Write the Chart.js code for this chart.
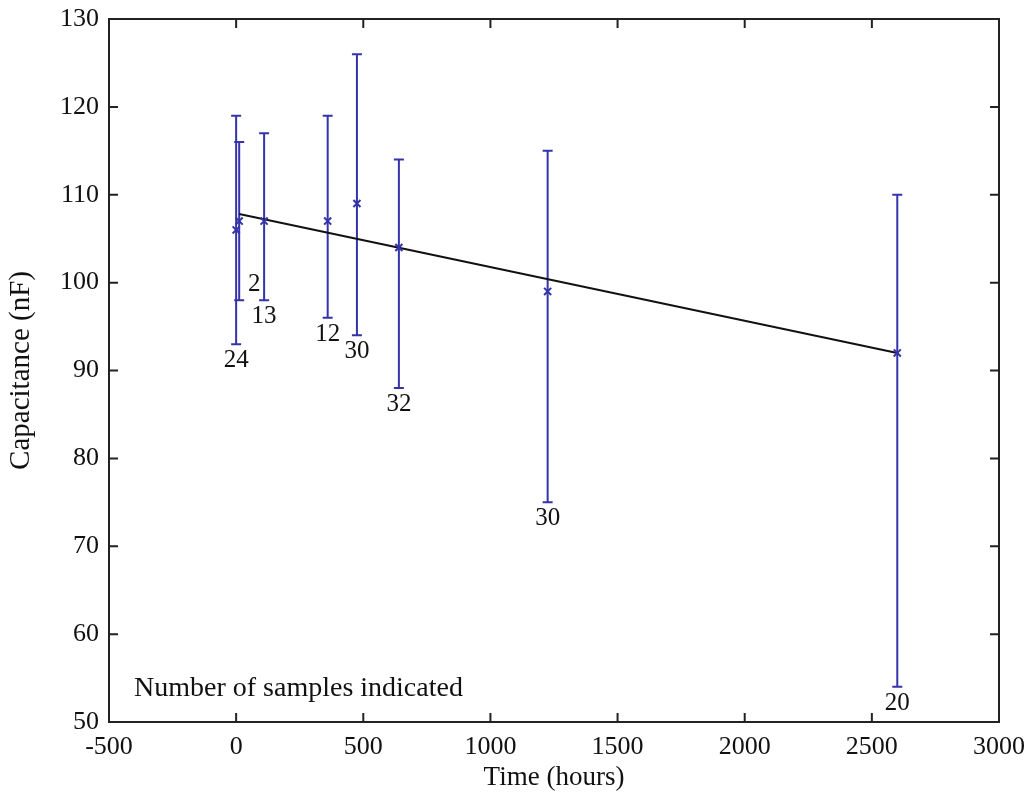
<!DOCTYPE html>
<html>
<head>
<meta charset="utf-8">
<script src="https://cdn.jsdelivr.net/npm/chart.js@4.4.0/dist/chart.umd.min.js"></script>
<style>
    html, body { margin: 0; padding: 0; background: #ffffff; }
    #wrap { width: 1032px; height: 799px; }
</style>
</head>
<body>
<div id="wrap"><canvas id="capChart"></canvas></div>
<script>
// Capacitance vs time, mean with min/max bars and sample counts
const hours = [0, 12, 110, 360, 475, 640, 1225, 2600];
const meanCap = [106, 107, 107, 107, 109, 104, 99, 92];
const lowCap = [93, 98, 98, 96, 94, 88, 75, 54];
const highCap = [119, 116, 117, 119, 126, 114, 115, 110];
const sampleCounts = ['24', '2', '13', '12', '30', '32', '30', '20'];

// linear fit line end points
const fitHours = [12, 2600];
const fitCap = [107.8, 92];

const xTicks = [-500, 0, 500, 1000, 1500, 2000, 2500, 3000];
const yTicks = [50, 60, 70, 80, 90, 100, 110, 120, 130];

const barColor = 'rgb(52, 52, 168)';
const serif = "'Liberation Serif', 'Times New Roman', serif";

// error bars + sample count labels
const errorBarPlugin = {
    id: 'errorBars',
    beforeDatasetsDraw(chart) {
        const ctx = chart.ctx;
        const xs = chart.scales.x, ys = chart.scales.y;
        ctx.save();
        ctx.strokeStyle = barColor;
        ctx.lineWidth = 2;
        hours.forEach((h, i) => {
            const px = xs.getPixelForValue(h);
            const top = ys.getPixelForValue(highCap[i]);
            const bot = ys.getPixelForValue(lowCap[i]);
            ctx.beginPath();
            ctx.moveTo(px, top); ctx.lineTo(px, bot);
            ctx.moveTo(px - 5, top); ctx.lineTo(px + 5, top);
            ctx.moveTo(px - 5, bot); ctx.lineTo(px + 5, bot);
            ctx.stroke();
        });
        ctx.fillStyle = '#111';
        ctx.font = '25px ' + serif;
        ctx.textAlign = 'center';
        ctx.textBaseline = 'top';
        hours.forEach((h, i) => {
            let px = xs.getPixelForValue(h);
            let py = ys.getPixelForValue(lowCap[i]) + 4;
            if (i === 1) { px += 15; py -= 32; } // "2" sits beside its bar
            ctx.fillText(sampleCounts[i], px, py);
        });
        ctx.restore();
    }
};

// MATLAB style box with inward ticks on all four sides
const boxPlugin = {
    id: 'boxAxes',
    afterDraw(chart) {
        const ctx = chart.ctx;
        const a = chart.chartArea;
        const xs = chart.scales.x, ys = chart.scales.y;
        ctx.save();
        ctx.strokeStyle = '#222';
        ctx.lineWidth = 2;
        ctx.strokeRect(a.left, a.top, a.right - a.left, a.bottom - a.top);
        ctx.beginPath();
        xTicks.forEach(v => {
            const px = xs.getPixelForValue(v);
            ctx.moveTo(px, a.bottom); ctx.lineTo(px, a.bottom - 9);
            ctx.moveTo(px, a.top); ctx.lineTo(px, a.top + 9);
        });
        yTicks.forEach(v => {
            const py = ys.getPixelForValue(v);
            ctx.moveTo(a.left, py); ctx.lineTo(a.left + 9, py);
            ctx.moveTo(a.right, py); ctx.lineTo(a.right - 9, py);
        });
        ctx.stroke();
        ctx.fillStyle = '#111';
        ctx.font = '28px ' + serif;
        ctx.textAlign = 'left';
        ctx.textBaseline = 'middle';
        ctx.fillText('Number of samples indicated', a.left + 25, a.bottom - 33);
        ctx.restore();
    }
};

new Chart(document.getElementById('capChart'), {
    type: 'scatter',
    data: {
        datasets: [
            {
                label: 'Fit',
                type: 'line',
                data: fitHours.map((h, i) => ({ x: h, y: fitCap[i] })),
                borderColor: '#111111',
                borderWidth: 2,
                pointRadius: 0,
                fill: false,
                order: 2
            },
            {
                label: 'Mean capacitance',
                data: hours.map((h, i) => ({ x: h, y: meanCap[i] })),
                pointStyle: 'crossRot',
                pointRadius: 5,
                borderColor: barColor,
                backgroundColor: barColor,
                borderWidth: 2,
                order: 1
            }
        ]
    },
    options: {
        responsive: true,
        maintainAspectRatio: false,
        animation: false,
        layout: {
            padding: { top: 19, right: 33, left: 0, bottom: 0 }
        },
        plugins: {
            legend: { display: false },
            tooltip: { enabled: false }
        },
        scales: {
            x: {
                type: 'linear',
                min: -500,
                max: 3000,
                afterBuildTicks: function (scale) {
                    scale.ticks = xTicks.map(v => ({ value: v }));
                },
                afterFit: function (scale) {
                    scale.height = 77;
                    scale.paddingLeft = 0;
                    scale.paddingRight = 0;
                },
                grid: { display: false, drawTicks: false },
                border: { display: false },
                ticks: {
                    color: '#111',
                    padding: 10,
                    maxRotation: 0,
                    font: { size: 26, family: serif },
                    callback: function (value) { return String(value); }
                },
                title: {
                    display: true,
                    text: 'Time (hours)',
                    color: '#111',
                    padding: { top: 0, bottom: 5 },
                    font: { size: 27, family: serif }
                }
            },
            y: {
                type: 'linear',
                min: 50,
                max: 130,
                afterBuildTicks: function (scale) {
                    scale.ticks = yTicks.map(v => ({ value: v }));
                },
                afterFit: function (scale) {
                    scale.width = 109;
                    scale.paddingTop = 0;
                    scale.paddingBottom = 0;
                },
                grid: { display: false, drawTicks: false },
                border: { display: false },
                ticks: {
                    color: '#111',
                    padding: 10,
                    font: { size: 26, family: serif },
                    callback: function (value) { return String(value); }
                },
                title: {
                    display: true,
                    text: 'Capacitance (nF)',
                    color: '#111',
                    padding: { top: 4, bottom: 0 },
                    font: { size: 29, family: serif }
                }
            }
        }
    },
    plugins: [errorBarPlugin, boxPlugin]
});
</script>
</body>
</html>
